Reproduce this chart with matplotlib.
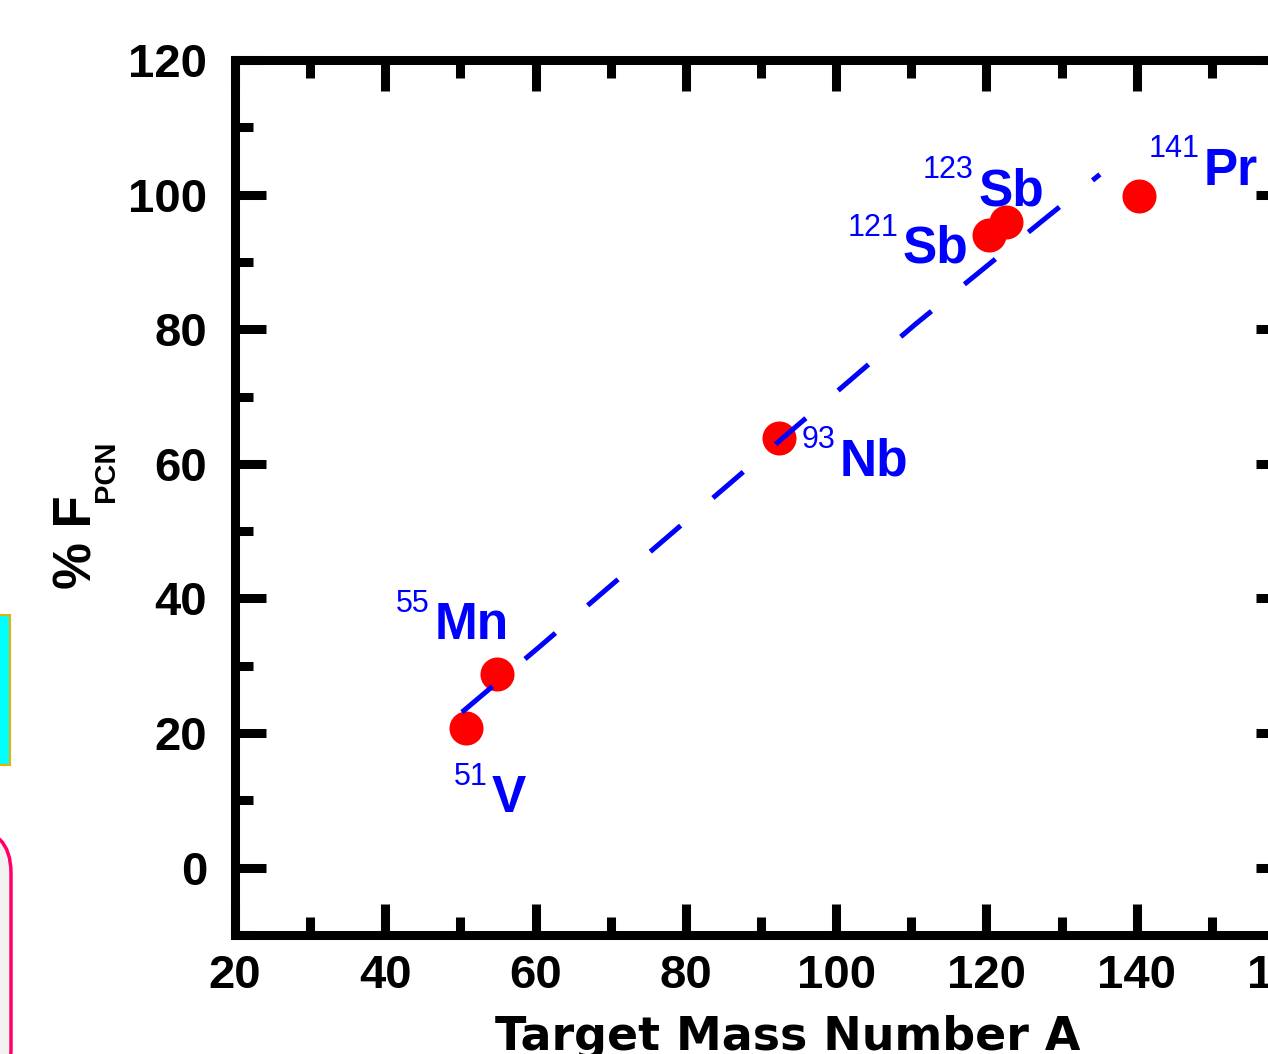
import matplotlib
matplotlib.use("Agg")
import matplotlib.pyplot as plt
from matplotlib.patches import Rectangle, FancyBboxPatch
from matplotlib.transforms import IdentityTransform

# target mass number A (as placed in the figure) and %F_PCN
mass_A = [50.8, 54.9, 92.4, 120.3, 122.6, 140.3]
f_pcn = [20.8, 28.8, 63.8, 94, 96, 99.8]

# dashed trend line
trend_A = [50.2, 60.6, 77.2, 93.9, 110.5, 127.1, 135.1]
trend_f = [23.1, 32.9, 48.8, 64.8, 80.7, 95.8, 103.0]

# nuclide labels (mass number as superscript + symbol)
lab_mass = ["51", "55", "93", "121", "123", "141"]
lab_sym = ["V", "Mn", "Nb", "Sb", "Sb", "Pr"]
lab_x = [54.2, 46.5, 100.5, 108.9, 118.9, 148.9]
lab_y = [8.3, 34.0, 58.3, 89.9, 98.4, 101.5]

x_ticks = [20, 40, 60, 80, 100, 120, 140, 160]
y_ticks = [0, 20, 40, 60, 80, 100, 120]

W, H = 1268, 1054
blue = "#0000ff"
red = "#ff0000"
font = "Liberation Sans"

fig = plt.figure(figsize=(W / 100, H / 100), dpi=100)
fig.patch.set_facecolor("white")

# bits of neighbouring slide objects cut off at the left edge
fig.add_artist(Rectangle((-20, H - 765), 30, 150, transform=IdentityTransform(),
                         facecolor="#00ffff", edgecolor="#e8b000", lw=1.5))
fig.add_artist(FancyBboxPatch((-120, -40), 131, H - 828 + 40,
                              boxstyle="round,pad=0,rounding_size=45",
                              transform=IdentityTransform(),
                              facecolor="#f2f2f2", edgecolor="#ff0066", lw=2.5))

ax = fig.add_axes([235 / W, 119 / H, 1052 / W, 875 / H])
ax.set_xlim(20, 160)
ax.set_ylim(-10, 120)

ax.plot(mass_A, f_pcn, "o", color=red, markersize=24.5, markeredgewidth=0, zorder=3)
ax.plot(trend_A, trend_f, color=blue, lw=3.6, dashes=(8, 8.5),
        dash_capstyle="butt", zorder=4)

for m, s, x, y in zip(lab_mass, lab_sym, lab_x, lab_y):
    ax.text(x, y, s, color=blue, fontsize=37, fontweight="bold", family=font,
            ha="left", va="baseline", zorder=5)
    ax.annotate(m, (x, y), xytext=(-3, 19.5), textcoords="offset points",
                color=blue, fontsize=22, family=font, ha="right", va="baseline",
                zorder=5)

ax.set_xticks(x_ticks)
ax.set_yticks(y_ticks)
ax.set_xticks(range(30, 160, 20), minor=True)
ax.set_yticks(range(-10, 120, 20), minor=True)
ax.tick_params(which="both", direction="in", top=True, right=True,
               width=6.5, color="black")
ax.tick_params(which="major", length=22)
ax.tick_params(which="minor", length=13)
ax.tick_params(axis="x", pad=14)
ax.tick_params(axis="y", pad=20)
for lbl in ax.get_xticklabels() + ax.get_yticklabels():
    lbl.set_fontfamily(font)
    lbl.set_fontweight("bold")
    lbl.set_fontsize(34)
for sp in ax.spines.values():
    sp.set_linewidth(6.5)

# axis titles
fig.text(788 / W, 3.5 / H, "Target Mass Number A", family="DejaVu Sans",
         fontweight="bold", fontsize=33, ha="center", va="baseline")
fig.text(77 / W, 1 - 542 / H, "% F", family=font, fontweight="bold",
         fontsize=38, rotation=90, ha="center", va="center")
fig.text(106.5 / W, 1 - 471 / H, "PCN", family=font, fontweight="bold",
         fontsize=21, rotation=90, ha="center", va="center")

fig.savefig("out.png", dpi=100)
